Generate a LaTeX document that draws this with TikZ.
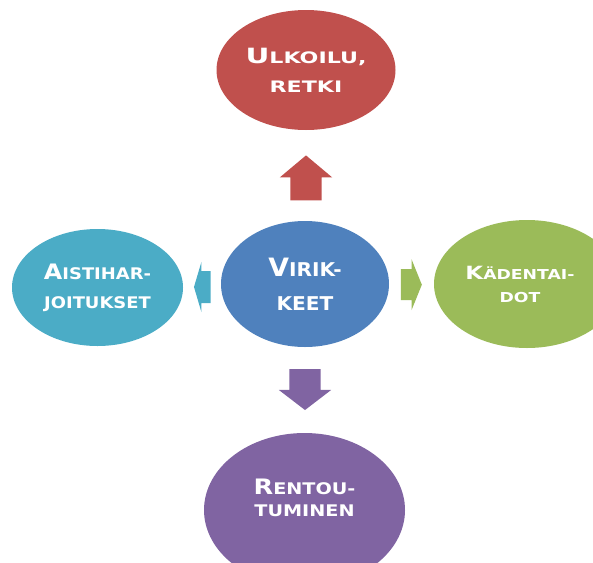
\documentclass[tikz,border=0pt]{standalone}
\usepackage{graphicx}
\usepackage{fontspec}
\setmainfont{DejaVu Sans}
\usepackage{tikz}
\definecolor{blobred}{HTML}{C0504D}
\definecolor{blobblue}{HTML}{4F81BD}
\definecolor{blobgreen}{HTML}{9BBB59}
\definecolor{blobpurple}{HTML}{8064A2}
\definecolor{blobteal}{HTML}{4BACC6}
\usetikzlibrary{shapes.geometric, shapes.arrows}
\newcommand{\capbig}[1]{\scalebox{1.33}{#1}}
\tikzset{
	blob/.style={ellipse, inner sep=0pt},
	blobtext/.style={text=white, align=center},
	blockarrow/.style={single arrow, inner sep=0pt, single arrow head indent=0pt},
}

\begin{document}
\begin{tikzpicture}[x=1pt, y=-1pt]
			\clip (0,0) rectangle (593,562);
			
			\node[blob, fill = blobblue, minimum width = 168, minimum height = 126,
				label={[blobtext, font=\fontsize{19}{34}\selectfont\bfseries\addfontfeature{FakeStretch=1.06}]center:\capbig{V}IRIK-\\KEET}] (virik) at (305,284) {};
			\node[blob, fill = blobred, minimum width = 179, minimum height = 120,
				label={[blobtext, font=\fontsize{15.8}{29}\selectfont\bfseries\addfontfeature{FakeStretch=1.4}]center:\capbig{U}LKOILU,\\RETKI}] (ulkoilu) at (306,70) {};
			\node[blob, fill = blobteal, minimum width = 171, minimum height = 117,
				label={[blobtext, font=\fontsize{16}{29}\selectfont\bfseries\addfontfeature{FakeStretch=1.12}]center:\capbig{A}ISTIHAR-\\JOITUKSET}] (aisti) at (97.5,287.5) {};
			\node[blob, fill = blobgreen, minimum width = 186, minimum height = 128,
				label={[blobtext, xshift=-7pt, font=\fontsize{13.7}{23}\selectfont\bfseries\addfontfeature{FakeStretch=1.26}]center:\capbig{K}ÄDENTAI-\\DOT}] (kaden) at (527,284) {};
			\node[blob, fill = blobpurple, minimum width = 201, minimum height = 154,
				label={[blobtext, yshift=12pt, font=\fontsize{16}{22}\selectfont\bfseries\addfontfeature{FakeStretch=1.2}]center:\capbig{R}ENTOU-\\TUMINEN}] (rent) at (304.5,510) {};
			
			% block arrows out of the centre
			\node[blockarrow, fill = blobred, shape border rotate = 90, inner xsep = 15.5, minimum height = 45, minimum width = 52,
				single arrow head extend = 10.5, single arrow tip angle = 100] (upArrow) at (306,184.5) {};
			\node[blockarrow, fill = blobpurple, shape border rotate = 270, inner xsep = 15.5, minimum height = 41, minimum width = 52,
				single arrow head extend = 10.5, single arrow tip angle = 105] (downArrow) at (305,383.5) {};
			\node[blockarrow, fill = blobteal, shape border rotate = 180, inner ysep = 15.8, minimum height = 16.7, minimum width = 50,
				single arrow head extend = 9.2, single arrow tip angle = 147] (leftArrow) at (204.7,287) {};
			\node[blockarrow, fill = blobgreen, inner ysep = 15.3, minimum height = 21, minimum width = 50.7,
				single arrow head extend = 10, single arrow tip angle = 136] (rightArrow) at (408.2,284.7) {};
			
			\end{tikzpicture}
\end{document}
